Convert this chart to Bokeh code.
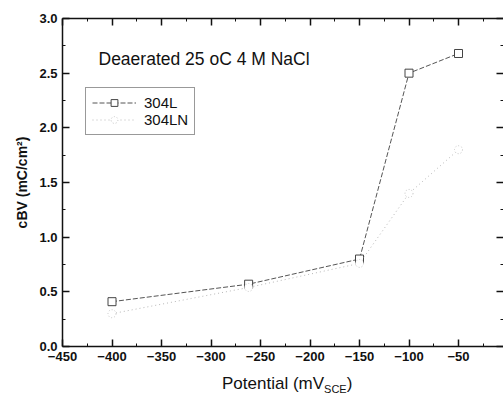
from bokeh.plotting import figure
from bokeh.models import (LinearAxis, FixedTicker, PrintfTickFormatter, Range1d,
                          Label, Legend, LegendItem, Div)
from bokeh.layouts import column
from bokeh.embed import file_html
from bokeh.resources import INLINE

# ---- data ----
potential = [-400, -262, -150, -100, -50]
cbv_304L = [0.41, 0.57, 0.80, 2.50, 2.68]
cbv_304LN = [0.30, 0.54, 0.76, 1.40, 1.80]
x_ticks = [-450, -400, -350, -300, -250, -200, -150, -100, -50]
x_minor = [-425, -375, -325, -275, -225, -175, -125, -75, -25]
y_ticks = [0.0, 0.5, 1.0, 1.5, 2.0, 2.5, 3.0]
y_minor = [0.25, 0.75, 1.25, 1.75, 2.25, 2.75]
title_text = "Deaerated 25 oC 4 M NaCl"
y_label = "cBV (mC/cm²)"

# ---- layout (pixels) ----
W, H = 503, 395
FIG_H = 372
FL, FR, FT, FB = 62, 503, 18, 346
X0 = -450.0
PX_PER_UNIT = 49.5 / 50.0
X1 = X0 + (FR - FL) / PX_PER_UNIT
Y0, Y1 = 0.0, 3.0


def dx(px):
    return X0 + (px - FL) / PX_PER_UNIT


def dy(py):
    return Y1 - (py - FT) * (Y1 - Y0) / (FB - FT)


p = figure(width=W, height=FIG_H, output_backend="svg", toolbar_location=None,
           x_range=Range1d(X0, X1), y_range=Range1d(Y0, Y1),
           x_axis_location=None, y_axis_location=None,
           min_border_left=FL, min_border_right=0, min_border_top=FT,
           min_border_bottom=FIG_H - FB, margin=0)
p.outline_line_color = None
p.grid.visible = False
p.background_fill_color = "white"
p.border_fill_color = "white"

FONT = "Liberation Sans"


def style_axis(ax, labels=True):
    ax.major_tick_in = 7
    ax.major_tick_out = 0
    ax.minor_tick_in = 3
    ax.minor_tick_out = 0
    ax.axis_line_color = "#111111"
    ax.axis_line_width = 1.5
    ax.major_tick_line_color = "#111111"
    ax.major_tick_line_width = 1.5
    ax.minor_tick_line_color = "#111111"
    ax.major_label_text_font = FONT
    ax.major_label_text_font_style = "bold"
    ax.major_label_text_color = "#111111"
    if labels:
        ax.major_label_text_font_size = "13px"
        ax.major_label_standoff = 5
    else:
        ax.major_label_text_font_size = "0px"
        ax.major_label_text_alpha = 0
        ax.major_label_standoff = 0


xb = LinearAxis(ticker=FixedTicker(ticks=x_ticks, minor_ticks=x_minor))
style_axis(xb)
p.add_layout(xb, "below")
xt = LinearAxis(ticker=FixedTicker(ticks=x_ticks, minor_ticks=x_minor))
style_axis(xt, labels=False)
p.add_layout(xt, "above")

yl = LinearAxis(ticker=FixedTicker(ticks=y_ticks, minor_ticks=y_minor),
                formatter=PrintfTickFormatter(format="%.1f"),
                axis_label=y_label)
style_axis(yl)
yl.axis_label_text_font = FONT
yl.axis_label_text_font_size = "14px"
yl.axis_label_text_font_style = "bold"
yl.axis_label_text_color = "#111111"
yl.axis_label_standoff = 6
p.add_layout(yl, "left")
yr = LinearAxis(ticker=FixedTicker(ticks=y_ticks, minor_ticks=y_minor))
style_axis(yr, labels=False)
yr.axis_line_color = None
p.add_layout(yr, "right")

# ---- series ----
l1 = p.line(potential, cbv_304L, line_color="#555555", line_width=1, line_dash="5 2")
m1 = p.scatter(potential, cbv_304L, marker="square", size=8, fill_color="white",
               line_color="#444444", line_width=1)
l2 = p.line(potential, cbv_304LN, line_color="#b8b8b8", line_width=1, line_dash="1 3")
m2 = p.scatter(potential, cbv_304LN, marker="circle", size=8, fill_color="white",
               line_color="#c4c4c4", line_width=1, line_dash="1 2")

legend = Legend(items=[LegendItem(label="304L", renderers=[l1, m1]),
                       LegendItem(label="304LN", renderers=[l2, m2])],
                orientation="vertical")
legend.location = (85 - FL, FB - 135)
legend.label_text_font = FONT
legend.label_text_font_size = "15px"
legend.label_text_color = "#111111"
legend.glyph_width = 44
legend.glyph_height = 17
legend.label_height = 17
legend.label_standoff = 8
legend.padding = 6
legend.spacing = 0
legend.margin = 0
legend.border_line_color = "#333333"
legend.border_line_width = 1
legend.background_fill_alpha = 1
p.add_layout(legend, "center")

# ---- texts ----
p.add_layout(Label(x=dx(98), y=dy(58), text=title_text, text_font=FONT,
                   text_font_size="17.5px", text_color="#111111",
                   text_baseline="middle", text_align="left"))

xlab = Div(width=W, height=H - FIG_H, margin=0,
           text=('<div style="margin-left:222px;padding-top:2px;font-family:\'Liberation Sans\';'
                 'font-size:17px;line-height:19px;color:#111111;white-space:nowrap">'
                 'Potential (mV<sub style="font-size:11px">SCE</sub>)</div>'))

layout = column(p, xlab, spacing=0, margin=0)
open("out.html", "w").write(file_html(layout, INLINE))
